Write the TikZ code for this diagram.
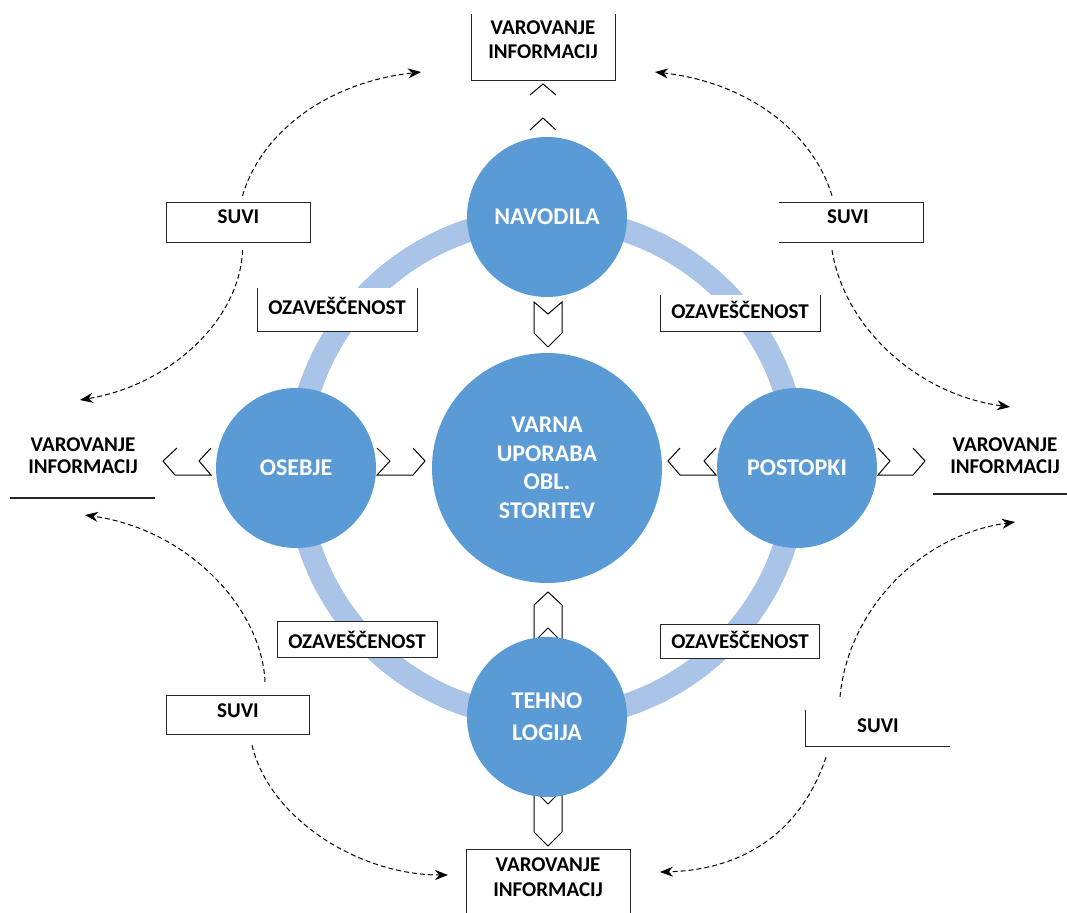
\documentclass[tikz,border=0pt]{standalone}
\usepackage{fontspec}
\setmainfont{Carlito}
\usetikzlibrary{arrows.meta,calc}
\definecolor{disc}{HTML}{5B9BD5}
\definecolor{ringblue}{HTML}{A9C4E7}

\begin{document}
\begin{tikzpicture}[x=1pt,y=-1pt,
  disk/.style={circle,fill=disc,text=white,inner sep=0pt,minimum size=160pt,
    font=\fontsize{24}{32}\selectfont\bfseries,align=center},
  boxframe/.style={fill=white,inner sep=0pt},
  lbl/.style={font=\fontsize{21}{24}\selectfont\bfseries,align=center,inner sep=0pt},
  rim/.style={line width=1.3pt,black!85},
  block/.style={line width=1pt,black,fill=white,line join=miter},
  chev/.style={line width=1pt,black},
  flow/.style={line width=1pt,black,dash pattern=on 5pt off 3pt,
    -{Stealth[length=13pt,width=10pt]}}
]
\useasboundingbox (0,0) rectangle (1067,912);
\fill[white] (0,0) rectangle (1067,912);

% centre of the cross
\coordinate (hub) at (547,468);

% light ring joining the four outer discs
\draw[ringblue,line width=23pt] (hub) circle[radius=250pt];

% block arrows that pass under the discs
\draw[block] (534,605) -- (548,592) -- (562,605) -- (562,642) -- (548,628) -- (534,642) -- cycle;
\draw[block] (534,790) -- (548,804) -- (562,790) -- (562,832) -- (548,846) -- (534,832) -- cycle;
\draw[block] (534,302) -- (548,314) -- (562,302) -- (562,333) -- (548,347) -- (534,333) -- cycle;

% discs
\node[disk,minimum size=230pt,font=\fontsize{24}{28.5}\selectfont\bfseries] (cc) at (hub) {VARNA\\UPORABA\\OBL.\\STORITEV};
\node[disk] (nav) at (547,217) {NAVODILA};
\node[disk] (ose) at (296,468) {OSEBJE};
\node[disk] (pos) at (797,468) {POSTOPKI};
\node[disk] (teh) at (547,717) {TEHNO\\LOGIJA};

% open chevrons between the discs and the side labels
\draw[chev] (530,95) -- (543,84) -- (556,95);
\draw[chev] (530,130) -- (543,118) -- (556,130);
\draw[chev] (177,448) -- (163,461) -- (175,475) -- (211,475) -- (199,461) -- (211,448);
\draw[chev] (377,448) -- (390,461) -- (377,475) -- (413,475) -- (425,461) -- (413,448);
\draw[chev] (680,448) -- (668,461) -- (680,475) -- (716,475) -- (704,461) -- (716,448);
\draw[chev] (878,448) -- (890,461) -- (878,475) -- (913,475) -- (925,461) -- (913,448);

% frames
\node[boxframe,minimum width=143pt,minimum height=66pt] (vT) at (543.5,47) {};
\node[boxframe,minimum width=163pt,minimum height=70pt] (vB) at (548.5,885) {};
\node[boxframe,minimum width=143pt,minimum height=39pt] (sTL) at (238.5,222.5) {};
\node[boxframe,minimum width=144pt,minimum height=39pt] (sTR) at (851,222.5) {};
\node[boxframe,minimum width=142pt,minimum height=38pt] (sBL) at (238,715) {};
\node[boxframe,minimum width=144pt,minimum height=36pt] (sBR) at (878,728) {};
\node[boxframe,minimum width=159pt,minimum height=43pt] (oTL) at (337.5,309.5) {};
\node[boxframe,minimum width=159pt,minimum height=36pt] (oTR) at (740.5,313) {};
\node[boxframe,minimum width=159pt,minimum height=35pt] (oBL) at (357.5,639.5) {};
\node[boxframe,minimum width=158pt,minimum height=33pt] (oBR) at (740,641.5) {};

\draw[rim] (vT.north west) -- (vT.south west) -- (vT.south east) -- (vT.north east);
\draw[rim] (vB.south west) -- (vB.north west) -- (vB.north east) -- (vB.south east);
\draw[rim] (sTL.north west) rectangle (sTL.south east);
\draw[rim] (sTR.north west) -- (sTR.north east) -- (sTR.south east) -- (sTR.south west);
\draw[rim] (sBL.north west) rectangle (sBL.south east);
\draw[rim] (sBR.north west) -- (sBR.south west) -- (sBR.south east);
\draw[rim] (oTL.north west) -- (oTL.south west) -- (oTL.south east) -- (oTL.north east);
\draw[rim] (oTR.north west) -- (oTR.south west) -- (oTR.south east) -- (oTR.north east);
\draw[rim] (oBL.north west) rectangle (oBL.south east);
\draw[rim] (oBR.north west) rectangle (oBR.south east);

% side labels with a rule beneath
\node[lbl,font=\fontsize{21}{22}\selectfont\bfseries] (vL) at (83,456) {VAROVANJE\\INFORMACIJ};
\node[lbl,font=\fontsize{21}{22}\selectfont\bfseries] (vR) at (1005,456) {VAROVANJE\\INFORMACIJ};
\coordinate (uLa) at (10,498);
\coordinate (uLb) at (155,498);
\coordinate (uRa) at (933,494);
\coordinate (uRb) at (1067,494);
\draw[rim] (uLa) -- (uLb);
\draw[rim] (uRa) -- (uRb);

% texts
\node[lbl] (vTt) at (543,40) {VAROVANJE\\INFORMACIJ};
\node[lbl,font=\fontsize{21}{25}\selectfont\bfseries] (vBt) at (548,877) {VAROVANJE\\INFORMACIJ};
\node[lbl] (sTLt) at (238.5,217) {SUVI};
\node[lbl] (sTRt) at (848,217) {SUVI};
\node[lbl] (sBLt) at (238,711) {SUVI};
\node[lbl] (sBRt) at (878,726) {SUVI};
\node[lbl] (oTLt) at (337,306) {OZAVEŠČENOST};
\node[lbl] (oTRt) at (740,310) {OZAVEŠČENOST};
\node[lbl] (oBLt) at (357,640) {OZAVEŠČENOST};
\node[lbl] (oBRt) at (740,640) {OZAVEŠČENOST};

% arrow tips of the dashed arcs
\coordinate (tTL) at (421,72);
\coordinate (tTR) at (655,72);
\coordinate (tLu) at (80,400);
\coordinate (tRu) at (1010,407);
\coordinate (tLd) at (85,515);
\coordinate (tRd) at (1015,522);
\coordinate (tBL) at (448,875);
\coordinate (tBR) at (660,872);

% dashed arcs from the SUVI boxes to the VAROVANJE labels
\draw[flow] ([shift={(4,-7)}]sTL.north) .. controls (262,130) and (330,82) .. (tTL);
\draw[flow] ([shift={(4,8)}]sTL.south) .. controls (240,320) and (170,385) .. (tLu);
\draw[flow] ([shift={(-19,-7)}]sTR.north) .. controls (812,130) and (745,82) .. (tTR);
\draw[flow] ([shift={(-19,8)}]sTR.south) .. controls (845,330) and (920,395) .. (tRu);
\draw[flow] ([shift={(27,-14)}]sBL.north) .. controls (262,610) and (190,530) .. (tLd);
\draw[flow] ([shift={(14,11)}]sBL.south) .. controls (270,820) and (360,875) .. (tBL);
\draw[flow] ([shift={(-38,-13)}]sBR.north) .. controls (848,610) and (920,535) .. (tRd);
\draw[flow] ([shift={(-52,11)}]sBR.south) .. controls (800,835) and (740,870) .. (tBR);
\end{tikzpicture}
\end{document}
